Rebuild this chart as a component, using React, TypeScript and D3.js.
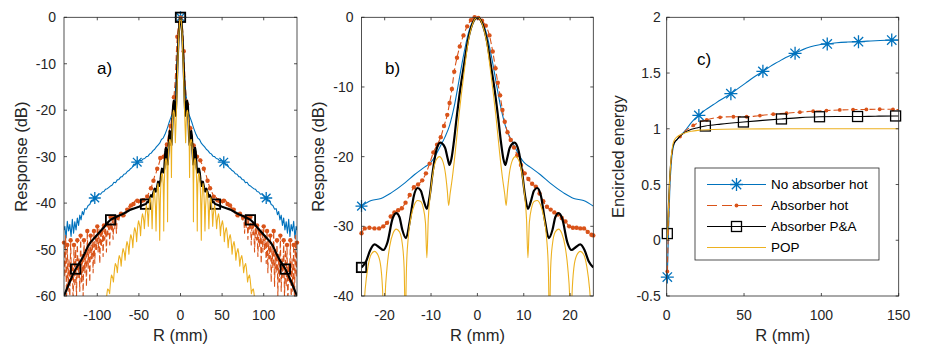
import React from "react";
import * as d3 from "d3";

type P = [number, number];

// ---------- Panel b (centre, |R| <= 25 mm) ----------
const blueHalfB: P[] = [[0,0],[1,-0.6],[2,-2.4],[3,-5.5],[4,-9.2],[5,-12.8],[6,-15.5],[7,-17.2],[8,-18.5],[9,-19.8],[10,-20.8],[11.4,-21.5],[13.6,-22.6],[15.7,-23.8],[18.6,-25.2],[20.8,-26.0],[22.9,-26.3],[25,-27.1]];
const orangeB: P[] = [[-25,-31.0],[-24.3,-30.3],[-23.3,-30.2],[-22.2,-30.3],[-21.2,-30.3],[-20.3,-30.0],[-19.5,-29.5],[-18.7,-28.6],[-17.9,-28.0],[-17.1,-27.7],[-16.3,-27.4],[-15.5,-26.6],[-14.6,-25.5],[-13.7,-24.4],[-12.8,-24.0],[-11.9,-23.4],[-11.1,-22.4],[-10.3,-21.0],[-9.5,-19.4],[-8.7,-18.3],[-7.9,-17.2],[-7.2,-15.6],[-6.5,-14.0],[-6.0,-12.3],[-5.5,-10.3],[-5.0,-7.8],[-4.4,-5.8],[-3.8,-4.2],[-3.0,-2.6],[-2.2,-1.3],[-1.4,-0.4],[-0.6,0],[0.2,-0.1],[1.0,-0.5],[1.8,-1.2],[2.6,-2.6],[3.3,-4.9],[3.9,-7.3],[4.4,-9.4],[4.9,-11.2],[5.4,-13.3],[5.9,-15.0],[6.5,-16.5],[7.2,-17.6],[7.9,-18.7],[8.6,-19.8],[9.4,-21.2],[10.2,-22.4],[11.0,-23.2],[11.8,-23.9],[12.6,-24.3],[13.4,-25.3],[14.2,-26.4],[15.0,-27.2],[15.8,-27.6],[16.6,-28.0],[17.4,-28.3],[18.2,-28.8],[19.0,-29.3],[19.8,-30.0],[20.6,-30.2],[21.4,-30.2],[22.2,-30.3],[23.0,-30.3],[23.8,-30.8],[24.6,-31.2],[25,-31.3]];
const blackHalfB: P[] = [[0,0],[1,-0.8],[2,-3.2],[3,-7.3],[3.7,-10.3],[4.5,-14.5],[5.1,-18],[5.6,-20.3],[6.0,-21.2],[6.4,-20.3],[7.0,-18.7],[8.0,-18.0],[8.9,-19.2],[9.6,-22],[10.3,-25.7],[10.9,-27.5],[11.5,-26.5],[12.2,-24.9],[12.9,-24.5],[13.7,-25.6],[14.6,-29.3],[15.4,-31.7],[16.2,-30.5],[16.8,-28.7],[17.5,-28.1],[18.3,-28.9],[19.4,-32.3],[20.3,-33.4],[21.2,-33.0],[22.2,-32.6],[23.1,-33.4],[24.0,-35.0],[25,-35.9]];
const popHalfB: P[] = [[0,0],[1,-0.9],[2,-3.6],[3,-8.6],[3.5,-11.3],[4,-14.2],[4.8,-19.5],[5.4,-23],[5.9,-25.4],[6.2,-27],[6.5,-24.8],[6.9,-22.4],[7.5,-20.6],[8.2,-20],[8.9,-20.5],[9.5,-22],[10.1,-25],[10.6,-29],[10.9,-34.5],[11.2,-29.5],[11.7,-27.3],[12.3,-26.4],[12.9,-26.3],[13.6,-26.9],[14.3,-28.6],[14.9,-31.5],[15.3,-36],[15.55,-44],[15.8,-36],[16.2,-32.5],[16.8,-30.8],[17.5,-30.4],[18.2,-31],[18.9,-32.8],[19.5,-36],[19.9,-40],[20.15,-46],[20.4,-40],[20.8,-36],[21.4,-34.2],[22.2,-33.6],[22.9,-34],[23.6,-35.8],[24.2,-39],[24.6,-43],[25,-48]];

// ---------- Panel a (outer part, R > 25 mm, right half) ----------
const blueOuterA: P[] = [[27,-27.5],[29,-27.9],[31,-28.4],[33,-28.7],[35,-29.2],[37,-29.4],[39,-29.9],[41,-30.0],[43,-30.4],[45,-30.5],[47,-30.9],[49,-30.8],[52,-31.2],[54,-31.8],[56,-31.6],[58,-32.3],[60,-32.6],[62,-33.0],[64,-33.2],[66,-33.7],[68,-33.8],[70,-34.3],[72,-34.4],[74,-34.9],[76,-35.0],[78,-35.6],[80,-35.5],[82,-36.1],[84,-36.3],[86,-36.6],[88,-36.9],[90,-37.0],[92,-37.5],[94,-37.6],[96,-38.1],[98,-38.0],[100,-38.5],[103,-38.9],[105,-39.6],[107,-39.4],[109,-40.3],[111,-40.5],[113,-41.3],[115,-41.2],[116.5,-42.5],[118,-41.8],[119.5,-43.6],[121,-42.6],[122.5,-44.8],[124,-43.2],[125.5,-45.8],[127,-44.0],[128.5,-46.5],[130,-43.5],[131.5,-47.2],[133,-44.6],[134.5,-46.0],[136,-43.9],[137.5,-47.5],[139,-45.0],[140,-45.8]];
const orangeOuterA: P[] = [[26.5,-31.9],[28,-32.6],[29.5,-33.6],[31,-34.1],[32.5,-35.2],[34,-36.0],[35.5,-36.8],[37,-37.2],[38.5,-38.0],[40,-38.6],[41.5,-38.3],[43,-38.7],[44.5,-39.4],[46,-39.0],[47.5,-39.6],[49,-39.4],[50.5,-40.0],[52,-39.5],[53.5,-39.2],[55,-39.6],[56.5,-40.2],[58,-40.0],[59.5,-40.5],[61,-41.2],[62.5,-40.6],[64,-41.4],[65.5,-42.2],[67,-41.8],[68.5,-42.6],[70,-43.0],[71.5,-42.3],[73,-42.8],[74.5,-44.0],[76,-43.0],[77,-46.5],[78,-42.6],[79,-45.5],[80,-43.2],[81,-47.8],[82,-43.5],[83,-46.0],[84,-43.0],[85,-49.0],[86,-44.2],[87,-46.8],[88,-44.6],[89,-50.5],[90,-45.5],[91,-48.0],[92,-44.8],[93,-51.5],[94,-45.2],[95,-49.5],[96,-46.5],[97,-53.0],[98,-45.6],[99,-50.5],[100,-45.0],[101,-50],[102,-47],[103,-53],[104,-46],[105,-55],[106,-48],[107,-52],[108,-47],[109,-57],[110,-49],[111,-54],[112,-46],[113,-58],[114,-50],[115,-55],[116,-48],[117,-60],[118,-51],[119,-57],[120,-47],[121,-59],[122,-52],[123,-56],[124,-48],[125,-61],[126,-50],[127,-58],[128,-49],[129,-62],[130,-53],[131,-57],[132,-48],[133,-61],[134,-52],[135,-59],[136,-49],[137,-62],[138,-47],[139,-56],[140,-48.5]];
const blackOuterA: P[] = [[25.6,-36.3],[26.9,-35.4],[28.2,-36.6],[29.6,-37.5],[31,-36.9],[32.4,-37.6],[33.9,-38.6],[35.3,-38.3],[36.8,-39.0],[38.3,-39.8],[39.8,-39.7],[41.5,-40.2],[45,-40.4],[50,-40.8],[55,-41.1],[60,-41.4],[65,-41.9],[70,-42.4],[75,-42.8],[80,-43.2],[84,-43.6],[88,-44.3],[92,-45.2],[96,-46.0],[100,-46.8],[104,-47.6],[108,-48.4],[111,-49.2],[114,-50.4],[117,-51.5],[120,-52.5],[123,-53.3],[126,-54.2],[129,-55.3],[132,-56.5],[135,-57.8],[138,-59.1],[140,-60.0]];
const popOuterA: P[] = [[25.6,-40.5],[26.3,-37],[27.1,-35.8],[27.9,-37],[28.7,-40.5],[29.4,-46],[30.1,-40.8],[31.0,-38.3],[31.8,-37.3],[32.6,-38.4],[33.4,-41.2],[34.1,-45.5],[34.8,-41.6],[35.6,-39.8],[36.4,-38.8],[37.2,-39.9],[38.0,-42],[38.7,-45],[39.4,-42.6],[40.2,-41.4],[41.0,-40.5],[41.8,-41.5],[42.6,-43.2],[43.4,-45.5],[44.1,-43.8],[44.9,-42.9],[45.7,-42.3],[46.5,-43.2],[47.3,-44.8],[48.0,-47],[48.7,-45.2],[49.6,-44.4],[50.4,-43.8],[51.2,-44.7],[52.0,-46.2],[52.7,-48.3],[53.4,-46.6],[54.2,-45.8],[55.0,-45.3],[55.8,-46.1],[56.6,-47.6],[57.3,-49.6],[58.0,-48],[58.9,-47.3],[59.7,-46.8],[60.5,-47.6],[61.3,-49.1],[62.0,-51],[62.7,-49.5],[63.5,-48.8],[64.3,-48.3],[65.1,-49.1],[65.9,-50.6],[66.6,-52.3],[67.3,-50.9],[68.2,-50.3],[69.0,-49.8],[69.8,-50.6],[70.6,-52],[71.3,-53.6],[72.0,-52.3],[72.8,-51.7],[73.6,-51.3],[74.4,-52.1],[75.2,-53.5],[75.9,-55],[76.6,-53.9],[77.5,-53.3],[78.3,-53],[79.1,-53.9],[79.9,-55.4],[80.6,-57],[81.3,-56.2],[82.1,-55.8],[82.9,-55.5],[83.7,-56.4],[84.5,-57.9],[85.2,-59.5],[85.9,-58.9],[86.8,-58.6],[87.6,-58.5],[88.4,-59.5],[89.2,-61],[89.9,-63],[91,-62],[92,-65]];

// marker positions (R, mm)
const blueMarkA = [-103, -52, 0, 52, 103];
const blackMarkA = [-126, -84, -42, 0, 42, 84, 126];
const blueMarkB = [-25];
const blackMarkB = [-25];

// ---------- Panel c (encircled energy) ----------
const blueC: P[] = [[0.4,-0.33],[1.2,0.1],[2,0.45],[3,0.7],[4,0.82],[5,0.87],[6.5,0.9],[8.6,0.935],[10,0.955],[12.9,1.0],[15,1.04],[17.5,1.08],[20.8,1.12],[25,1.17],[30,1.215],[35,1.26],[41.5,1.315],[46,1.36],[51,1.41],[56,1.46],[62.2,1.515],[67,1.56],[72,1.6],[77,1.64],[83,1.677],[88,1.71],[93,1.735],[98,1.752],[103.8,1.761],[110,1.772],[117,1.778],[124,1.781],[130,1.786],[138,1.792],[145.5,1.796],[150,1.797]];
const orangeC: P[] = [[0.4,-0.28],[1.2,0.15],[2,0.5],[3,0.72],[4,0.83],[5,0.88],[6.5,0.905],[8.6,0.93],[12,0.98],[17.2,1.03],[21.5,1.06],[25.9,1.08],[30,1.094],[34.5,1.103],[42.7,1.108],[51.7,1.108],[59.2,1.117],[67.9,1.13],[76.5,1.139],[85.1,1.148],[93.7,1.157],[102.3,1.163],[112,1.169],[120.6,1.172],[128.2,1.173],[136.8,1.175],[145.4,1.175],[150,1.172]];
const blackC: P[] = [[0.4,0.06],[1.2,0.35],[2,0.58],[3,0.75],[4,0.84],[5,0.875],[6.5,0.9],[8.6,0.935],[12,0.97],[16,0.995],[20,1.01],[25,1.025],[35,1.042],[49.6,1.061],[62,1.075],[74,1.088],[86,1.1],[98.7,1.108],[110,1.11],[123,1.11],[135,1.113],[148,1.115],[150,1.115]];
const popC: P[] = [[0.4,0.0],[1.2,0.3],[2,0.56],[3,0.76],[4,0.86],[5,0.9],[6.5,0.925],[8.6,0.945],[12,0.965],[16,0.978],[20,0.986],[30,0.994],[50,0.998],[80,1.0],[150,1.0]];
const blueMarkC = [0.4, 20.8, 41.5, 62.2, 83, 103.8, 124, 145.5];
const orangeMarkC = [0.4, 8.6, 17.2, 25.9, 34.5, 43.1, 51.7, 60.3, 68.9, 77.5, 86.1, 94.7, 103.3, 111.9, 120.5, 129.1, 137.7, 146.3];
const blackMarkC = [0.4, 25, 49.6, 74.2, 98.8, 123.4, 148];

// ---------- ticks / labels ----------
const aXTicks = [-100, -50, 0, 50, 100];
const aYTicks = [-60, -50, -40, -30, -20, -10, 0];
const bXTicks = [-20, -10, 0, 10, 20];
const bYTicks = [-40, -30, -20, -10, 0];
const cXTicks = [0, 50, 100, 150];
const cYTicks = [-0.5, 0, 0.5, 1, 1.5, 2];
const legendNames = ["No absorber hot", "Absorber hot", "Absorber P&A", "POP"];

// ---------- helpers ----------
const mirrorHalf = (half: P[]): P[] => [
  ...half.filter((p) => p[0] > 0).map(([r, v]) => [-r, v] as P).reverse(),
  ...half,
];
const withOuter = (outer: P[], center: P[]): P[] => [
  ...outer.map(([r, v]) => [-r, v] as P).reverse(),
  ...center,
  ...outer,
];
const interp = (data: P[], r: number): P => {
  const i = d3.bisector((d: P) => d[0]).left(data, r);
  if (i <= 0) return [r, data[0][1]];
  if (i >= data.length) return [r, data[data.length - 1][1]];
  const [r0, v0] = data[i - 1];
  const [r1, v1] = data[i];
  const t = r1 === r0 ? 0 : (r - r0) / (r1 - r0);
  return [r, v0 + t * (v1 - v0)];
};
const spacedPoints = (data: P[], step: number): P[] => {
  const best = new Map<number, P>();
  for (const p of data) {
    const k = Math.round(p[0] / step);
    const cur = best.get(k);
    if (!cur || Math.abs(p[0] - k * step) < Math.abs(cur[0] - k * step)) best.set(k, p);
  }
  return Array.from(best.values());
};

const BLUE = "#0072BD";
const ORANGE = "#D95319";
const YELLOW = "#EDB120";
const AX = "#262626";
const FONT = "'Liberation Sans', Arial, Helvetica, sans-serif";
const TICK_FS = 14;
const LABEL_FS = 16.5;

type MarkerType = "star" | "dot" | "square" | "none";
interface Series {
  data: P[];
  color: string;
  width: number;
  dash?: string;
  marker: MarkerType;
  markPts: P[];
  mSize: number;
  mWidth?: number;
}

function Marker({ type, x, y, color, size, w }: { type: MarkerType; x: number; y: number; color: string; size: number; w: number }) {
  if (type === "star") {
    const s = size;
    const d = s * 0.72;
    return (
      <path
        d={`M${x - s},${y}L${x + s},${y}M${x},${y - s}L${x},${y + s}M${x - d},${y - d}L${x + d},${y + d}M${x - d},${y + d}L${x + d},${y - d}`}
        stroke={color}
        strokeWidth={w}
        fill="none"
      />
    );
  }
  if (type === "square") {
    return <rect x={x - size} y={y - size} width={size * 2} height={size * 2} fill="none" stroke={color} strokeWidth={w} />;
  }
  if (type === "dot") {
    return <circle cx={x} cy={y} r={size} fill={color} />;
  }
  return null;
}

interface PanelProps {
  id: string;
  left: number;
  right: number;
  top: number;
  bottom: number;
  xDomain: [number, number];
  yDomain: [number, number];
  xTicks: number[];
  yTicks: number[];
  yTickGap: number;
  yLabel: string;
  yLabelX: number;
  tag: string;
  tagX: number;
  tagY: number;
  series: Series[];
  curve: d3.CurveFactory;
  children?: React.ReactNode;
}

function Panel(p: PanelProps) {
  const x = d3.scaleLinear().domain(p.xDomain).range([p.left, p.right]);
  const y = d3.scaleLinear().domain(p.yDomain).range([p.bottom, p.top]);
  const line = d3
    .line<P>()
    .x((d) => x(d[0]))
    .y((d) => y(d[1]))
    .curve(p.curve);
  const tl = 3;
  const clipId = `clip-${p.id}`;
  return (
    <g>
      <defs>
        <clipPath id={clipId}>
          <rect x={p.left} y={p.top} width={p.right - p.left} height={p.bottom - p.top} />
        </clipPath>
      </defs>
      <rect x={p.left} y={p.top} width={p.right - p.left} height={p.bottom - p.top} fill="#fff" />
      {p.series.map((s, i) => (
        <g key={i}>
          <path
            d={line(s.data) || ""}
            fill="none"
            stroke={s.color}
            strokeWidth={s.width}
            strokeDasharray={s.dash}
            strokeLinejoin="round"
            clipPath={`url(#${clipId})`}
          />
          {s.markPts.map((m, j) => (
            <Marker key={j} type={s.marker} x={x(m[0])} y={y(m[1])} color={s.color} size={s.mSize} w={s.mWidth ?? 1.2} />
          ))}
        </g>
      ))}
      <rect x={p.left} y={p.top} width={p.right - p.left} height={p.bottom - p.top} fill="none" stroke={AX} strokeWidth={0.8} />
      {p.xTicks.map((t) => (
        <g key={`x${t}`}>
          <line x1={x(t)} x2={x(t)} y1={p.bottom} y2={p.bottom - tl} stroke={AX} strokeWidth={0.8} />
          <line x1={x(t)} x2={x(t)} y1={p.top} y2={p.top + tl} stroke={AX} strokeWidth={0.8} />
          <text x={x(t)} y={p.bottom + 24} textAnchor="middle" fontSize={TICK_FS} fill={AX} fontFamily={FONT}>
            {String(t)}
          </text>
        </g>
      ))}
      {p.yTicks.map((t) => (
        <g key={`y${t}`}>
          <line x1={p.left} x2={p.left + tl} y1={y(t)} y2={y(t)} stroke={AX} strokeWidth={0.8} />
          <line x1={p.right} x2={p.right - tl} y1={y(t)} y2={y(t)} stroke={AX} strokeWidth={0.8} />
          <text x={p.left - p.yTickGap} y={y(t) + 5} textAnchor="end" fontSize={TICK_FS} fill={AX} fontFamily={FONT}>
            {String(t)}
          </text>
        </g>
      ))}
      <text x={(p.left + p.right) / 2} y={p.bottom + 45} textAnchor="middle" fontSize={LABEL_FS} fill={AX} fontFamily={FONT}>
        R (mm)
      </text>
      <text
        transform={`translate(${p.yLabelX},${(p.top + p.bottom) / 2}) rotate(-90)`}
        textAnchor="middle"
        fontSize={LABEL_FS}
        fill={AX}
        fontFamily={FONT}
      >
        {p.yLabel}
      </text>
      <text x={p.tagX} y={p.tagY} fontSize={17} fill="#000" fontFamily={FONT}>
        {p.tag}
      </text>
      {p.children}
    </g>
  );
}

export default function App() {
  const TOP = 17.3;
  const BOTTOM = 296;

  const blueB = mirrorHalf(blueHalfB);
  const blackB = mirrorHalf(blackHalfB);
  const popB = mirrorHalf(popHalfB);

  const blueA = withOuter(blueOuterA, blueB);
  const orangeA = withOuter(orangeOuterA, orangeB);
  const blackA = mirrorHalf([...blackHalfB, ...blackOuterA]);
  const popA = mirrorHalf([...popHalfB, ...popOuterA]);

  const seriesA: Series[] = [
    { data: blueA, color: BLUE, width: 1.1, marker: "star", markPts: blueMarkA.map((r) => interp(blueA, r)), mSize: 6, mWidth: 1.3 },
    { data: orangeA, color: ORANGE, width: 1.1, dash: "6,3", marker: "dot", markPts: spacedPoints(orangeA, 4), mSize: 2.2 },
    { data: blackA, color: "#000", width: 2.2, marker: "square", markPts: blackMarkA.map((r) => interp(blackA, r)), mSize: 4.7, mWidth: 1.8 },
    { data: popA, color: YELLOW, width: 1.1, marker: "none", markPts: [], mSize: 0 },
  ];
  const seriesB: Series[] = [
    { data: blueB, color: BLUE, width: 1.1, marker: "star", markPts: blueMarkB.map((r) => interp(blueB, r)), mSize: 6, mWidth: 1.3 },
    { data: orangeB, color: ORANGE, width: 1.1, dash: "6,3", marker: "dot", markPts: orangeB, mSize: 2.2 },
    { data: blackB, color: "#000", width: 2.2, marker: "square", markPts: blackMarkB.map((r) => interp(blackB, r)), mSize: 4.7, mWidth: 1.8 },
    { data: popB, color: YELLOW, width: 1.1, marker: "none", markPts: [], mSize: 0 },
  ];
  const seriesC: Series[] = [
    { data: blueC, color: BLUE, width: 1.1, marker: "star", markPts: blueMarkC.map((r) => interp(blueC, r)), mSize: 6.5, mWidth: 1.3 },
    { data: orangeC, color: ORANGE, width: 1.1, dash: "6,3", marker: "dot", markPts: orangeMarkC.map((r) => interp(orangeC, r)), mSize: 1.9 },
    { data: blackC, color: "#000", width: 1.1, marker: "square", markPts: blackMarkC.map((r) => interp(blackC, r)), mSize: 5, mWidth: 1.3 },
    { data: popC, color: YELLOW, width: 1.1, marker: "none", markPts: [], mSize: 0 },
  ];

  const lg = { x: 695, y: 168, w: 184, h: 92 };
  const rowY = [184.5, 205.5, 226.5, 247.5];
  const legendStyle = [
    { color: BLUE, dash: undefined as string | undefined, marker: "star" as MarkerType, size: 6.5, w: 1.3 },
    { color: ORANGE, dash: "10,5", marker: "dot" as MarkerType, size: 1.9, w: 1 },
    { color: "#000", dash: undefined, marker: "square" as MarkerType, size: 5, w: 1.3 },
    { color: YELLOW, dash: undefined, marker: "none" as MarkerType, size: 0, w: 1 },
  ];

  return (
    <svg width={926} height={348} style={{ display: "block", background: "#fff", position: "absolute", left: 0, top: 0 }}>
      <rect x={0} y={0} width={926} height={348} fill="#fff" />
      <Panel
        id="a" left={64} right={297} top={TOP} bottom={BOTTOM}
        xDomain={[-140, 140]} yDomain={[-60, 0]} xTicks={aXTicks} yTicks={aYTicks} yTickGap={8}
        yLabel="Response (dB)" yLabelX={26.5} tag="a)" tagX={97} tagY={74}
        series={seriesA} curve={d3.curveLinear}
      />
      <Panel
        id="b" left={361.5} right={593.3} top={TOP} bottom={BOTTOM}
        xDomain={[-25, 25]} yDomain={[-40, 0]} xTicks={bXTicks} yTicks={bYTicks} yTickGap={8}
        yLabel="Response (dB)" yLabelX={324} tag="b)" tagX={385} tagY={74}
        series={seriesB} curve={d3.curveMonotoneX}
      />
      <Panel
        id="c" left={666.7} right={898.7} top={TOP} bottom={BOTTOM}
        xDomain={[0, 150]} yDomain={[-0.5, 2]} xTicks={cXTicks} yTicks={cYTicks} yTickGap={6}
        yLabel="Encircled energy" yLabelX={624} tag="c)" tagX={697} tagY={65}
        series={seriesC} curve={d3.curveMonotoneX}
      >
        <g>
          <rect x={lg.x} y={lg.y} width={lg.w} height={lg.h} fill="#fff" stroke={AX} strokeWidth={0.8} />
          {legendNames.map((name, i) => {
            const st = legendStyle[i];
            const yy = rowY[i];
            return (
              <g key={name}>
                <line x1={707} x2={766} y1={yy} y2={yy} stroke={st.color} strokeWidth={1.1} strokeDasharray={st.dash} />
                <Marker type={st.marker} x={736.5} y={yy} color={st.color} size={st.size} w={st.w} />
                <text x={771} y={yy + 4.8} fontSize={13.5} fill="#000" fontFamily={FONT}>
                  {name}
                </text>
              </g>
            );
          })}
        </g>
      </Panel>
    </svg>
  );
}
